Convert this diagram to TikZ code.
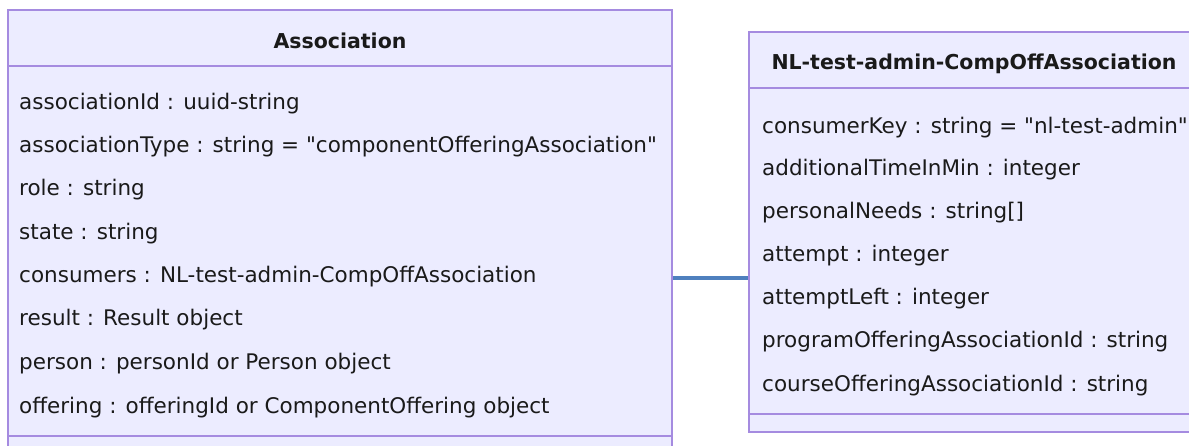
\documentclass[tikz,border=0pt]{standalone}
\usepackage{fontspec}
\newfontfamily\uifont{DejaVu Sans}
\begin{document}
\begin{tikzpicture}[x=1pt,y=-1pt,
  classbox/.style={draw=boxline,fill=boxfill,line width=1.5pt,inner sep=0pt,rectangle},
  sep/.style={draw=boxline,line width=1.5pt},
  member/.style={anchor=base west,inner sep=0pt,text=txt,font=\uifont\fontsize{21.5}{24}\selectfont},
  title/.style={anchor=base,inner sep=0pt,text=txt,font=\uifont\fontsize{20.5}{24}\selectfont\bfseries},
  link/.style={draw=linkblue,line width=3.5pt}]
\definecolor{boxfill}{HTML}{ECECFF}
\definecolor{boxline}{HTML}{A58BE0}
\definecolor{txt}{HTML}{1A1A1A}
\definecolor{linkblue}{HTML}{4F80BE}
\useasboundingbox (0,0) rectangle (1189,446);
\clip (0,0) rectangle (1189,446);
% left class
\node[classbox,minimum width=664pt,minimum height=450pt] (A) at (340,235) {};
\draw[sep] (A.west |- 0,66) -- (A.east |- 0,66);
\draw[sep] (A.west |- 0,436) -- (A.east |- 0,436);
\node[title] (At) at (340,49) {Association};
\node[member] (a1) at (19,110) {associationId : uuid-string};
\node[member] (a2) at (19,153) {associationType : string = "componentOfferingAssociation"};
\node[member] (a3) at (19,196) {role : string};
\node[member] (a4) at (19,240) {state : string};
\node[member] (a5) at (19,283) {consumers : NL-test-admin-CompOffAssociation};
\node[member] (a6) at (19,326) {result : Result object};
\node[member] (a7) at (19,370) {person : personId or Person object};
\node[member] (a8) at (19,413) {offering : offeringId or ComponentOffering object};
% right class
\node[classbox,minimum width=450pt,minimum height=400pt] (B) at (974,232) {};
\draw[sep] (B.west |- 0,88) -- (B.east |- 0,88);
\draw[sep] (B.west |- 0,414) -- (B.east |- 0,414);
\node[title] (Bt) at (974,70) {NL-test-admin-CompOffAssociation};
\node[member] (b1) at (762,134) {consumerKey : string = "nl-test-admin"};
\node[member] (b2) at (762,176) {additionalTimeInMin : integer};
\node[member] (b3) at (762,219) {personalNeeds : string[]};
\node[member] (b4) at (762,262) {attempt : integer};
\node[member] (b5) at (762,305) {attemptLeft : integer};
\node[member] (b6) at (762,348) {programOfferingAssociationId : string};
\node[member] (b7) at (762,391) {courseOfferingAssociationId : string};
% connector
\draw[link] (A.east |- 0,278) -- (B.west |- 0,278);
\end{tikzpicture}
\end{document}
